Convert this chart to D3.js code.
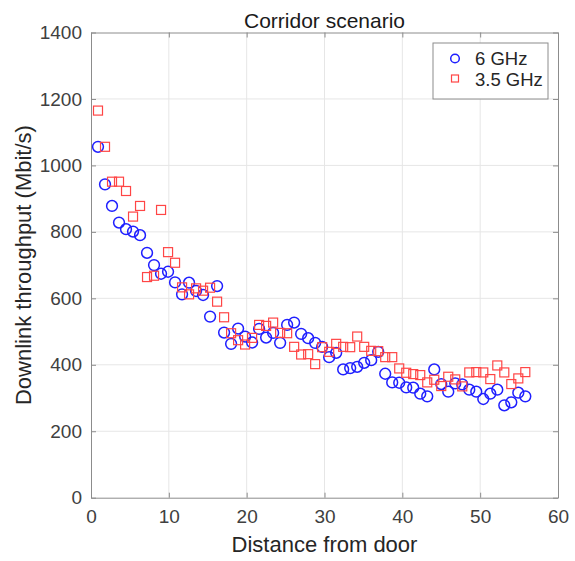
<!DOCTYPE html>
<html lang="en">
<head>
<meta charset="utf-8">
<title>Corridor scenario</title>
<script src="https://d3js.org/d3.v7.min.js"></script>
<style>
  body { margin: 0; background: #fff; }
  text { font-family: "Liberation Sans", Arial, Helvetica, sans-serif; }
</style>
</head>
<body>
<script>

// distance from door for each measurement
var distance = [0.9, 1.8, 2.7, 3.6, 4.5, 5.4, 6.3, 7.2, 8.1, 9, 9.9, 10.8, 11.7, 12.6, 13.5, 14.4,
  15.3, 16.2, 17.1, 18, 18.9, 19.8, 20.7, 21.6, 22.5, 23.4, 24.3, 25.2, 26.1, 27, 27.9, 28.8,
  29.7, 30.6, 31.5, 32.4, 33.3, 34.2, 35.1, 36, 36.9, 37.8, 38.7, 39.6, 40.5, 41.4, 42.3, 43.2,
  44.1, 45, 45.9, 46.8, 47.7, 48.6, 49.5, 50.4, 51.3, 52.2, 53.1, 54, 54.9, 55.8];

// downlink throughput, Mbit/s
var ghz6 = [1056, 943, 878, 828, 808, 801, 790, 737, 700, 674, 680, 648, 612, 647, 622, 610,
  545, 637, 497, 463, 509, 485, 467, 508, 482, 496, 466, 520, 527, 493, 480, 466,
  454, 423, 436, 386, 390, 394, 406, 414, 439, 373, 347, 346, 332, 331, 313, 305,
  386, 342, 319, 344, 341, 325, 319, 297, 313, 325, 278, 287, 316, 305];

var ghz35 = [1165, 1056, 951, 951, 923, 846, 878, 664, 668, 866, 739, 707, 633, 612, 630, 623,
  632, 590, 543, 495, 474, 461, 481, 520, 517, 527, 496, 495, 454, 431, 432, 402,
  453, 439, 463, 454, 453, 485, 454, 442, 441, 423, 423, 389, 376, 372, 369, 347,
  355, 336, 364, 356, 335, 377, 378, 377, 357, 398, 377, 342, 359, 378];

var xTicks = [0, 10, 20, 30, 40, 50, 60];
var yTicks = [0, 200, 400, 600, 800, 1000, 1200, 1400];
var seriesNames = ["6 GHz", "3.5 GHz"];

var width = 575, height = 561;
var mLeft = 91, mRight = 558, mTop = 32.5, mBottom = 497.7;

var svg = d3.select("body").append("svg")
    .attr("width", width)
    .attr("height", height);

var x = d3.scaleLinear().domain([0, 60]).range([mLeft, mRight]);
var y = d3.scaleLinear().domain([0, 1400]).range([mBottom, mTop]);

// grid
var grid = svg.append("g");
grid.selectAll(".gx").data(xTicks.slice(1, -1)).enter().append("line")
    .attr("x1", d => x(d)).attr("x2", d => x(d))
    .attr("y1", mTop).attr("y2", mBottom)
    .attr("stroke", "#e6e6e6").attr("stroke-width", 1);
grid.selectAll(".gy").data(yTicks.slice(1, -1)).enter().append("line")
    .attr("x1", mLeft).attr("x2", mRight)
    .attr("y1", d => y(d)).attr("y2", d => y(d))
    .attr("stroke", "#e6e6e6").attr("stroke-width", 1);

// axes
var fmt = d3.format("d");
var xAxis = svg.append("g").attr("transform", "translate(0," + mBottom + ")")
    .call(d3.axisBottom(x).tickValues(xTicks).tickFormat(fmt).tickSizeInner(-5).tickSizeOuter(0).tickPadding(12));
var yAxis = svg.append("g").attr("transform", "translate(" + mLeft + ",0)")
    .call(d3.axisLeft(y).tickValues(yTicks).tickFormat(fmt).tickSizeInner(-5).tickSizeOuter(0).tickPadding(9));
var xTop = svg.append("g").attr("transform", "translate(0," + mTop + ")")
    .call(d3.axisTop(x).tickValues(xTicks).tickSizeInner(-5).tickSizeOuter(0).tickFormat(""));
var yRight = svg.append("g").attr("transform", "translate(" + mRight + ",0)")
    .call(d3.axisRight(y).tickValues(yTicks).tickSizeInner(-5).tickSizeOuter(0).tickFormat(""));

[xAxis, yAxis, xTop, yRight].forEach(function(g) {
  g.selectAll("path").attr("stroke", "#8c8c8c");
  g.selectAll("line").attr("stroke", "#8c8c8c");
  g.selectAll("text")
    .attr("fill", "#404040")
    .style("font-size", "19px")
    .style("font-family", "'Liberation Sans', Arial, sans-serif");
});
xAxis.selectAll("text").attr("dy", "0.71em");

// points
svg.append("g").selectAll("circle").data(distance).enter().append("circle")
    .attr("cx", d => x(d))
    .attr("cy", (d, i) => y(ghz6[i]))
    .attr("r", 5.4)
    .attr("fill", "none")
    .attr("stroke", "#1f1fff")
    .attr("stroke-width", 1.5);

svg.append("g").selectAll("rect").data(distance).enter().append("rect")
    .attr("x", d => x(d) - 4.5)
    .attr("y", (d, i) => y(ghz35[i]) - 4.5)
    .attr("width", 9)
    .attr("height", 9)
    .attr("fill", "none")
    .attr("stroke", "#ff4545")
    .attr("stroke-width", 1.2);

// title and labels
svg.append("text")
    .attr("x", (mLeft + mRight) / 2).attr("y", 28)
    .attr("text-anchor", "middle")
    .attr("fill", "#1a1a1a")
    .style("font-size", "21px")
    .text("Corridor scenario");

svg.append("text")
    .attr("x", (mLeft + mRight) / 2).attr("y", 552)
    .attr("text-anchor", "middle")
    .attr("fill", "#262626")
    .style("font-size", "22px")
    .text("Distance from door");

svg.append("text")
    .attr("transform", "translate(31," + (mTop + mBottom) / 2 + ") rotate(-90)")
    .attr("text-anchor", "middle")
    .attr("fill", "#262626")
    .style("font-size", "22px")
    .text("Downlink throughput (Mbit/s)");

// legend
var legend = svg.append("g");
legend.append("rect")
    .attr("x", 433).attr("y", 43)
    .attr("width", 115).attr("height", 56)
    .attr("fill", "#fff")
    .attr("stroke", "#8c8c8c")
    .attr("stroke-width", 1);
legend.append("circle")
    .attr("cx", 455).attr("cy", 58.5).attr("r", 4.3)
    .attr("fill", "none").attr("stroke", "#1f1fff").attr("stroke-width", 1.5);
legend.append("rect")
    .attr("x", 451.5).attr("y", 75).attr("width", 7).attr("height", 7)
    .attr("fill", "none").attr("stroke", "#ff4545").attr("stroke-width", 1.2);
legend.selectAll("text.lg").data(seriesNames).enter().append("text")
    .attr("x", 475)
    .attr("y", (d, i) => 65 + i * 20.5)
    .attr("fill", "#262626")
    .style("font-size", "18.5px")
    .text(d => d);

</script>
</body>
</html>
